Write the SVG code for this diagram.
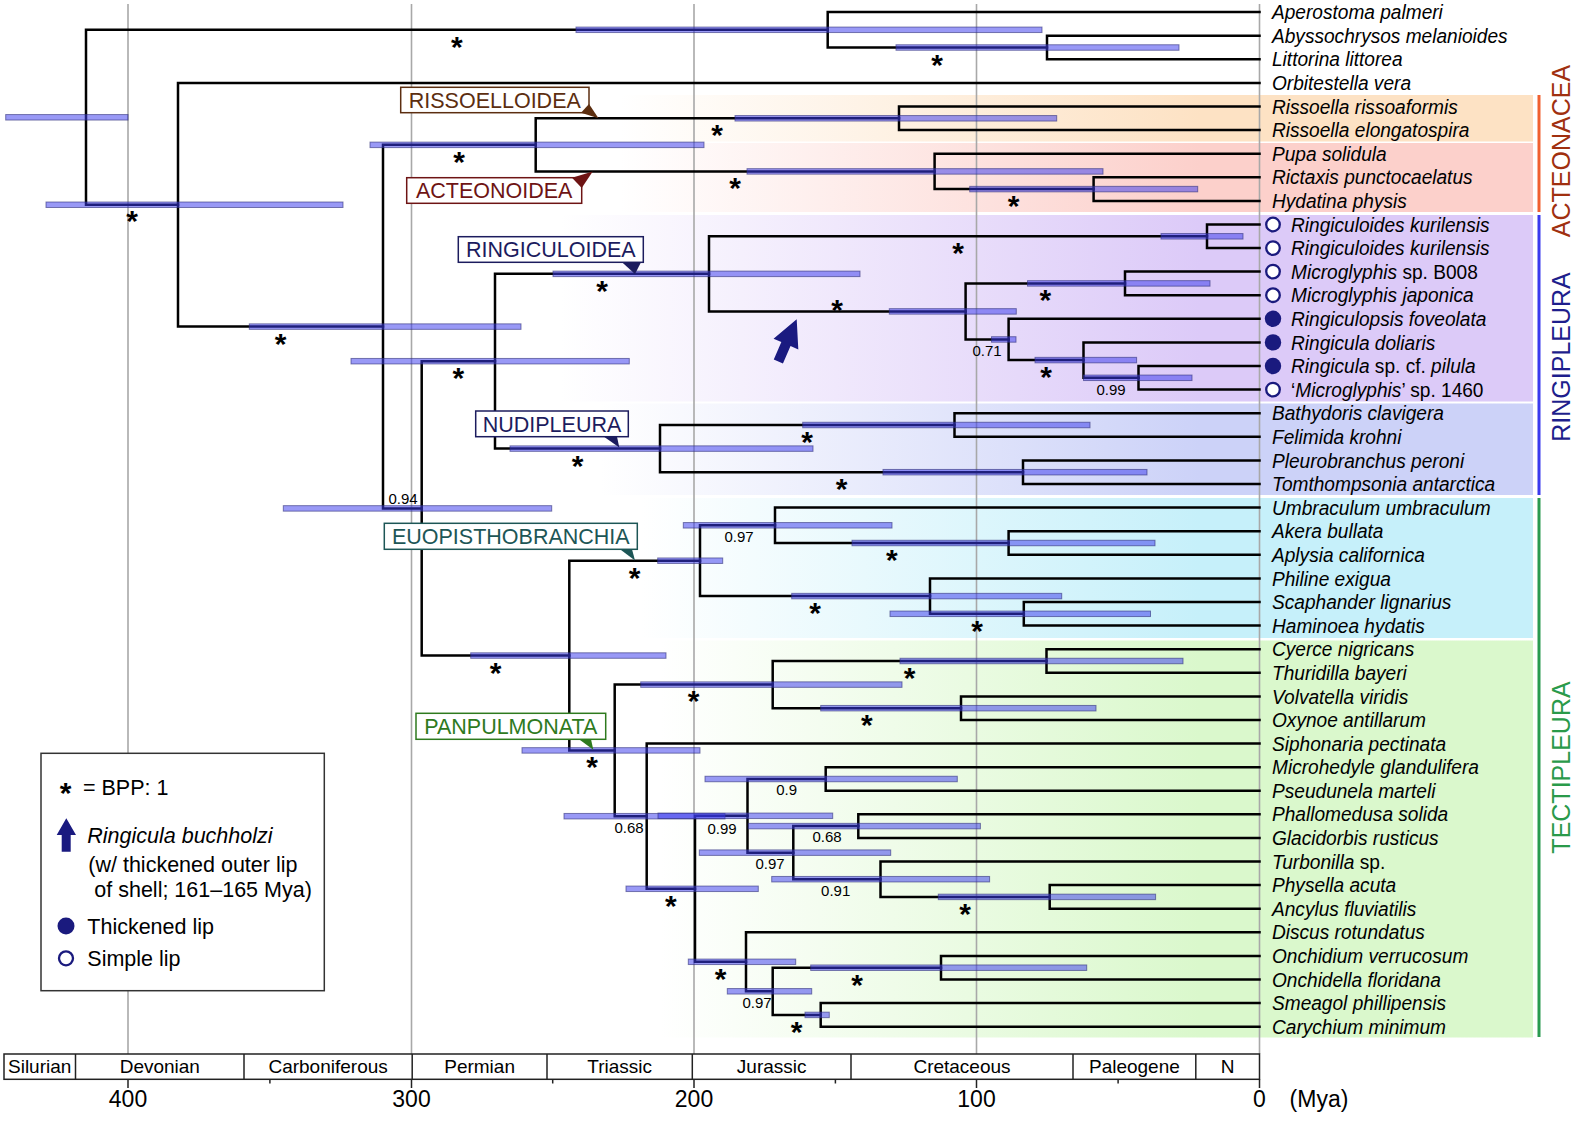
<svg xmlns="http://www.w3.org/2000/svg" width="1575" height="1124" viewBox="0 0 1575 1124">
<style>
text{font-family:"Liberation Sans",Arial,sans-serif}
.br{stroke:#000;stroke-width:2.5;fill:none;stroke-linecap:square}
.ci{fill:rgb(60,60,238);fill-opacity:0.52;stroke:#30307a;stroke-width:1;stroke-opacity:0.6}
.grid{stroke:#a8a8a8;stroke-width:1.6}
.tx{font-size:21px;font-style:italic;fill:#000}
.rm{font-style:normal}
.ast{font-size:30px;font-weight:bold;text-anchor:middle}
.pp{font-size:15px;text-anchor:middle}
.clab{font-size:21.5px;text-anchor:middle}
.cbox{fill:#fff;stroke-width:1.5}
.leg{font-size:21.5px}
.per{font-size:19px;text-anchor:middle}
.tick{stroke:#222;stroke-width:1.5}
.num{font-size:23px;text-anchor:middle}
.grp{font-size:25px;text-anchor:middle}
.dot{fill:#1a1a7e}
.odot{fill:#fff;stroke:#1a1a7e;stroke-width:2.3}
</style>
<defs>
<linearGradient id="gRis" gradientUnits="userSpaceOnUse" x1="620" y1="0" x2="1200" y2="0"><stop offset="0" stop-color="#fde2c4" stop-opacity="0"/><stop offset="1" stop-color="#fde2c4"/></linearGradient>
<linearGradient id="gAct" gradientUnits="userSpaceOnUse" x1="620" y1="0" x2="1200" y2="0"><stop offset="0" stop-color="#fcd0cb" stop-opacity="0"/><stop offset="1" stop-color="#fcd0cb"/></linearGradient>
<linearGradient id="gRin" gradientUnits="userSpaceOnUse" x1="560" y1="0" x2="1200" y2="0"><stop offset="0" stop-color="#dccaf8" stop-opacity="0"/><stop offset="1" stop-color="#dccaf8"/></linearGradient>
<linearGradient id="gNud" gradientUnits="userSpaceOnUse" x1="600" y1="0" x2="1200" y2="0"><stop offset="0" stop-color="#ccd2f8" stop-opacity="0"/><stop offset="1" stop-color="#ccd2f8"/></linearGradient>
<linearGradient id="gEuo" gradientUnits="userSpaceOnUse" x1="640" y1="0" x2="1200" y2="0"><stop offset="0" stop-color="#c6f0fa" stop-opacity="0"/><stop offset="1" stop-color="#c6f0fa"/></linearGradient>
<linearGradient id="gPan" gradientUnits="userSpaceOnUse" x1="660" y1="0" x2="1200" y2="0"><stop offset="0" stop-color="#daf8cc" stop-opacity="0"/><stop offset="1" stop-color="#daf8cc"/></linearGradient>
</defs>
<rect width="1575" height="1124" fill="#fff"/>
<g id="bands">
<rect x="520" y="95" width="1013" height="46.5" fill="url(#gRis)"/>
<rect x="520" y="143" width="1013" height="69" fill="url(#gAct)"/>
<rect x="520" y="215" width="1013" height="186.5" fill="url(#gRin)"/>
<rect x="520" y="403.5" width="1013" height="91.5" fill="url(#gNud)"/>
<rect x="520" y="498" width="1013" height="140" fill="url(#gEuo)"/>
<rect x="520" y="640.5" width="1013" height="397" fill="url(#gPan)"/>
</g>
<g id="gridlines" class="grid">
<line x1="128" y1="4" x2="128" y2="1054"/>
<line x1="411.5" y1="4" x2="411.5" y2="1054"/>
<line x1="694" y1="4" x2="694" y2="1054"/>
<line x1="976.5" y1="4" x2="976.5" y2="1054"/>
<line x1="1259.5" y1="4" x2="1259.5" y2="1054"/>
</g>
<g id="connectors" class="br">
<path d="M827.7 29.8H86V204.75H178"/>
<path d="M1259.5 12.1H827.7V47.5H1047"/>
<path d="M1259.5 35.7H1047V59.3H1259.5"/>
<path d="M1259.5 82.9H178V326.6H383"/>
<path d="M535.7 144.85H383V508.4H421.7"/>
<path d="M899 118.3H535.7V171.4H934.6"/>
<path d="M1259.5 106.5H899V130.1H1259.5"/>
<path d="M1259.5 153.7H934.6V189.1H1093.6"/>
<path d="M1259.5 177.3H1093.6V200.9H1259.5"/>
<path d="M495 361.2H421.7V655.55H569.3"/>
<path d="M709 273.85H495V448.6H660"/>
<path d="M1207 236.3H709V311.4H965.6"/>
<path d="M1259.5 224.5H1207V248.1H1259.5"/>
<path d="M1125 283.4H965.6V339.45H1008.6"/>
<path d="M1259.5 271.6H1125V295.2H1259.5"/>
<path d="M1259.5 318.8H1008.6V360.1H1083.5"/>
<path d="M1259.5 342.4H1083.5V377.8H1138.5"/>
<path d="M1259.5 366H1138.5V389.6H1259.5"/>
<path d="M954.5 425H660V472.2H1023"/>
<path d="M1259.5 413.2H954.5V436.8H1259.5"/>
<path d="M1259.5 460.4H1023V484H1259.5"/>
<path d="M700 560.7H569.3V750.4H614.7"/>
<path d="M775 525.3H700V596.1H930"/>
<path d="M1259.5 507.6H775V543H1008.6"/>
<path d="M1259.5 531.2H1008.6V554.8H1259.5"/>
<path d="M1259.5 578.4H930V613.8H1023.8"/>
<path d="M1259.5 602H1023.8V625.6H1259.5"/>
<path d="M772.7 684.6H614.7V816.2H646.7"/>
<path d="M1046.5 661H772.7V708.2H961"/>
<path d="M1259.5 649.2H1046.5V672.8H1259.5"/>
<path d="M1259.5 696.4H961V720H1259.5"/>
<path d="M1259.5 743.6H646.7V888.8H695"/>
<path d="M747.5 815.8H695V961.8H746"/>
<path d="M825.7 779H747.5V852.65H793.3"/>
<path d="M1259.5 767.2H825.7V790.7H1259.5"/>
<path d="M858.3 826.1H793.3V879.2H880.5"/>
<path d="M1259.5 814.3H858.3V837.9H1259.5"/>
<path d="M1259.5 861.5H880.5V896.9H1049.7"/>
<path d="M1259.5 885.1H1049.7V908.7H1259.5"/>
<path d="M1259.5 932.3H746V991.3H772.7"/>
<path d="M941 967.7H772.7V1014.9H820.7"/>
<path d="M1259.5 955.9H941V979.5H1259.5"/>
<path d="M1259.5 1003.1H820.7V1026.7H1259.5"/>
</g>
<g id="ci-bars" class="ci">
<rect x="5.7" y="114.55" width="122.3" height="5.5"/>
<rect x="46" y="202" width="297" height="5.5"/>
<rect x="576" y="27.05" width="466" height="5.5"/>
<rect x="896" y="44.75" width="283" height="5.5"/>
<rect x="249.3" y="323.85" width="271.7" height="5.5"/>
<rect x="370" y="142.1" width="334" height="5.5"/>
<rect x="735" y="115.55" width="321.7" height="5.5"/>
<rect x="747" y="168.65" width="356" height="5.5"/>
<rect x="969.7" y="186.35" width="228" height="5.5"/>
<rect x="283.3" y="505.65" width="268.4" height="5.5"/>
<rect x="351" y="358.45" width="278.3" height="5.5"/>
<rect x="553" y="271.1" width="307" height="5.5"/>
<rect x="1161" y="233.55" width="82" height="5.5"/>
<rect x="889.3" y="308.65" width="127" height="5.5"/>
<rect x="1027.5" y="280.65" width="182.5" height="5.5"/>
<rect x="991.5" y="336.7" width="24.5" height="5.5"/>
<rect x="1035" y="357.35" width="101.6" height="5.5"/>
<rect x="1083.5" y="375.05" width="108.5" height="5.5"/>
<rect x="510" y="445.85" width="303" height="5.5"/>
<rect x="802.7" y="422.25" width="287.3" height="5.5"/>
<rect x="883" y="469.45" width="264" height="5.5"/>
<rect x="470.7" y="652.8" width="195.3" height="5.5"/>
<rect x="657.7" y="557.95" width="65" height="5.5"/>
<rect x="683.3" y="522.55" width="208.7" height="5.5"/>
<rect x="852" y="540.25" width="303" height="5.5"/>
<rect x="791.7" y="593.35" width="270" height="5.5"/>
<rect x="890" y="611.05" width="260.5" height="5.5"/>
<rect x="522" y="747.65" width="178" height="5.5"/>
<rect x="640.7" y="681.85" width="261.3" height="5.5"/>
<rect x="900" y="658.25" width="283" height="5.5"/>
<rect x="820.7" y="705.45" width="275.3" height="5.5"/>
<rect x="564" y="813.45" width="161" height="5.5"/>
<rect x="626" y="886.05" width="132.3" height="5.5"/>
<rect x="658" y="813.05" width="174.7" height="5.5"/>
<rect x="705" y="776.25" width="252.3" height="5.5"/>
<rect x="699.3" y="849.9" width="191.4" height="5.5"/>
<rect x="748.3" y="823.35" width="232.1" height="5.5"/>
<rect x="771.7" y="876.45" width="217.9" height="5.5"/>
<rect x="938.3" y="894.15" width="217.3" height="5.5"/>
<rect x="688.3" y="959.05" width="107.4" height="5.5"/>
<rect x="727.3" y="988.55" width="84.4" height="5.5"/>
<rect x="810.7" y="964.95" width="276" height="5.5"/>
<rect x="805" y="1012.15" width="24.3" height="5.5"/>
</g>
<g id="bpp-asterisks" class="ast">
<text x="456.9" y="56.8">*</text>
<text x="937" y="74.5">*</text>
<text x="132" y="231">*</text>
<text x="280.5" y="353.5">*</text>
<text x="459" y="172">*</text>
<text x="717" y="145">*</text>
<text x="735" y="198">*</text>
<text x="1013.6" y="216">*</text>
<text x="458.3" y="388">*</text>
<text x="602" y="301">*</text>
<text x="958" y="263">*</text>
<text x="837" y="320">*</text>
<text x="1045.3" y="310.4">*</text>
<text x="1046" y="387">*</text>
<text x="577.5" y="475.6">*</text>
<text x="807" y="452">*</text>
<text x="841.5" y="499.2">*</text>
<text x="495.5" y="682.5">*</text>
<text x="634.6" y="587.7">*</text>
<text x="891.8" y="570">*</text>
<text x="815" y="623">*</text>
<text x="977" y="641">*</text>
<text x="592" y="777.4">*</text>
<text x="693.5" y="711">*</text>
<text x="909.6" y="688">*</text>
<text x="866.9" y="735.2">*</text>
<text x="670.8" y="915.8">*</text>
<text x="965" y="924">*</text>
<text x="720.5" y="988.8">*</text>
<text x="857" y="994.7">*</text>
<text x="796.7" y="1041.9">*</text>
</g>
<g id="bpp-values" class="pp">
<text x="403" y="504">0.94</text>
<text x="739" y="542">0.97</text>
<text x="987" y="356">0.71</text>
<text x="1111" y="395">0.99</text>
<text x="629" y="832.5">0.68</text>
<text x="722" y="833.5">0.99</text>
<text x="786.7" y="795">0.9</text>
<text x="827" y="842">0.68</text>
<text x="770" y="868.5">0.97</text>
<text x="835.7" y="895.5">0.91</text>
<text x="757" y="1008">0.97</text>
</g>
<g id="clade-rissoelloidea">
<rect class="cbox" x="400.7" y="87.3" width="188.3" height="25.4" stroke="#5c2e10"/>
<polygon points="581,112.7 598.5,118.3 589,104" fill="#5c2e10"/>
<text class="clab" x="494.8" y="107.8" fill="#5c2e10">RISSOELLOIDEA</text>
</g>
<g id="clade-acteonoidea">
<rect class="cbox" x="406.7" y="177.7" width="175" height="25.6" stroke="#6e1414"/>
<polygon points="572,177.7 592.7,171.4 581.7,188" fill="#6e1414"/>
<text class="clab" x="494.2" y="198.3" fill="#6e1414">ACTEONOIDEA</text>
</g>
<g id="clade-ringiculoidea">
<rect class="cbox" x="458.3" y="236.7" width="185" height="25.6" stroke="#1c1c5e"/>
<polygon points="622,262.3 635,274 641,262.3" fill="#1c1c5e"/>
<text class="clab" x="550.8" y="257.3" fill="#1c1c5e">RINGICULOIDEA</text>
</g>
<g id="clade-nudipleura">
<rect class="cbox" x="475.7" y="411" width="152.6" height="25.7" stroke="#1c1c5e"/>
<polygon points="604,436.7 619.3,447.5 617,436.7" fill="#1c1c5e"/>
<text class="clab" x="552" y="431.7" fill="#1c1c5e">NUDIPLEURA</text>
</g>
<g id="clade-euopisthobranchia">
<rect class="cbox" x="384.3" y="523.3" width="253" height="26" stroke="#1d5656"/>
<polygon points="620,549.3 635,560.5 632,549.3" fill="#1d5656"/>
<text class="clab" x="510.8" y="544.2" fill="#1d5656">EUOPISTHOBRANCHIA</text>
</g>
<g id="clade-panpulmonata">
<rect class="cbox" x="416" y="713.3" width="189.7" height="26" stroke="#2e7a1e"/>
<polygon points="579,739.3 593.3,749.8 591,739.3" fill="#2e7a1e"/>
<text class="clab" x="510.8" y="734.2" fill="#2e7a1e">PANPULMONATA</text>
</g>
<g id="lip-states">
<circle class="odot" cx="1273" cy="224.5" r="6.8"/>
<circle class="odot" cx="1273" cy="248.1" r="6.8"/>
<circle class="odot" cx="1273" cy="271.6" r="6.8"/>
<circle class="odot" cx="1273" cy="295.2" r="6.8"/>
<circle class="dot" cx="1273" cy="318.8" r="8.2"/>
<circle class="dot" cx="1273" cy="342.4" r="8.2"/>
<circle class="dot" cx="1273" cy="366" r="8.2"/>
<circle class="odot" cx="1273" cy="389.6" r="6.8"/>
</g>
<g id="taxa" class="tx" transform="translate(1272 0) scale(0.91 1) translate(-1272 0)">
<g id="t01"><text x="1272" y="19.3">Aperostoma palmeri</text></g>
<g id="t02"><text x="1272" y="42.9">Abyssochrysos melanioides</text></g>
<g id="t03"><text x="1272" y="66.5">Littorina littorea</text></g>
<g id="t04"><text x="1272" y="90.1">Orbitestella vera</text></g>
<g id="t05"><text x="1272" y="113.7">Rissoella rissoaformis</text></g>
<g id="t06"><text x="1272" y="137.3">Rissoella elongatospira</text></g>
<g id="t07"><text x="1272" y="160.9">Pupa solidula</text></g>
<g id="t08"><text x="1272" y="184.5">Rictaxis punctocaelatus</text></g>
<g id="t09"><text x="1272" y="208.1">Hydatina physis</text></g>
<g id="t10"><text x="1292.9" y="231.7">Ringiculoides kurilensis</text></g>
<g id="t11"><text x="1292.9" y="255.3">Ringiculoides kurilensis</text></g>
<g id="t12"><text x="1292.9" y="278.8">Microglyphis<tspan class="rm"> sp. B008</tspan></text></g>
<g id="t13"><text x="1292.9" y="302.4">Microglyphis japonica</text></g>
<g id="t14"><text x="1292.9" y="326">Ringiculopsis foveolata</text></g>
<g id="t15"><text x="1292.9" y="349.6">Ringicula doliaris</text></g>
<g id="t16"><text x="1292.9" y="373.2">Ringicula<tspan class="rm"> sp. cf. </tspan>pilula</text></g>
<g id="t17"><text x="1292.9" y="396.8"><tspan class="rm">‘</tspan>Microglyphis<tspan class="rm">’ sp. 1460</tspan></text></g>
<g id="t18"><text x="1272" y="420.4">Bathydoris clavigera</text></g>
<g id="t19"><text x="1272" y="444">Felimida krohni</text></g>
<g id="t20"><text x="1272" y="467.6">Pleurobranchus peroni</text></g>
<g id="t21"><text x="1272" y="491.2">Tomthompsonia antarctica</text></g>
<g id="t22"><text x="1272" y="514.8">Umbraculum umbraculum</text></g>
<g id="t23"><text x="1272" y="538.4">Akera bullata</text></g>
<g id="t24"><text x="1272" y="562">Aplysia californica</text></g>
<g id="t25"><text x="1272" y="585.6">Philine exigua</text></g>
<g id="t26"><text x="1272" y="609.2">Scaphander lignarius</text></g>
<g id="t27"><text x="1272" y="632.8">Haminoea hydatis</text></g>
<g id="t28"><text x="1272" y="656.4">Cyerce nigricans</text></g>
<g id="t29"><text x="1272" y="680">Thuridilla bayeri</text></g>
<g id="t30"><text x="1272" y="703.6">Volvatella viridis</text></g>
<g id="t31"><text x="1272" y="727.2">Oxynoe antillarum</text></g>
<g id="t32"><text x="1272" y="750.8">Siphonaria pectinata</text></g>
<g id="t33"><text x="1272" y="774.4">Microhedyle glandulifera</text></g>
<g id="t34"><text x="1272" y="797.9">Pseudunela marteli</text></g>
<g id="t35"><text x="1272" y="821.5">Phallomedusa solida</text></g>
<g id="t36"><text x="1272" y="845.1">Glacidorbis rusticus</text></g>
<g id="t37"><text x="1272" y="868.7">Turbonilla<tspan class="rm"> sp.</tspan></text></g>
<g id="t38"><text x="1272" y="892.3">Physella acuta</text></g>
<g id="t39"><text x="1272" y="915.9">Ancylus fluviatilis</text></g>
<g id="t40"><text x="1272" y="939.5">Discus rotundatus</text></g>
<g id="t41"><text x="1272" y="963.1">Onchidium verrucosum</text></g>
<g id="t42"><text x="1272" y="986.7">Onchidella floridana</text></g>
<g id="t43"><text x="1272" y="1010.3">Smeagol phillipensis</text></g>
<g id="t44"><text x="1272" y="1033.9">Carychium minimum</text></g>
</g>
<g id="group-acteonacea">
<line x1="1539" y1="95" x2="1539" y2="212" stroke="#f06030" stroke-width="3"/>
<text class="grp" transform="translate(1570 151) rotate(-90)" fill="#a0300f">ACTEONACEA</text>
</g>
<g id="group-ringipleura">
<line x1="1539" y1="215" x2="1539" y2="495" stroke="#3a3aee" stroke-width="3"/>
<text class="grp" transform="translate(1570 357) rotate(-90)" fill="#1e1e8c">RINGIPLEURA</text>
</g>
<g id="group-tectipleura">
<line x1="1539" y1="498" x2="1539" y2="1037" stroke="#2a9a50" stroke-width="3"/>
<text class="grp" transform="translate(1570 767.5) rotate(-90)" fill="#2a9a4a">TECTIPLEURA</text>
</g>
<g id="arrow-ringicula-buchholzi">
<polygon points="0,0 13.5,27 5,27 5,46 -5,46 -5,27 -13.5,27" fill="#1a1a80" transform="translate(796.7 319.3) rotate(23.5)"/>
</g>
<g id="legend">
<rect x="41" y="753.3" width="283.3" height="237.4" fill="#fff" stroke="#333" stroke-width="1.5"/>
<text class="ast" x="65.7" y="803">*</text>
<text class="leg" x="83" y="795">= BPP: 1</text>
<polygon points="66.3,818.3 76,835 70.7,835 70.7,851.7 61.7,851.7 61.7,835 56.7,835" fill="#1a1a80"/>
<text class="leg" x="87.3" y="842.7" font-style="italic">Ringicula buchholzi</text>
<text class="leg" x="88.3" y="871.7">(w/ thickened outer lip</text>
<text class="leg" x="94.3" y="896.7">of shell; 161–165 Mya)</text>
<circle class="dot" cx="66" cy="926" r="8.5"/>
<text class="leg" x="87.3" y="934">Thickened lip</text>
<circle class="odot" cx="66" cy="958.3" r="7"/>
<text class="leg" x="87.3" y="966">Simple lip</text>
</g>
<g id="time-axis">
<rect x="4" y="1054" width="1255.5" height="25.3" fill="none" stroke="#222" stroke-width="1.5"/>
<g class="tick">
<line x1="75.5" y1="1054" x2="75.5" y2="1079.3"/>
<line x1="244" y1="1054" x2="244" y2="1079.3"/>
<line x1="412.2" y1="1054" x2="412.2" y2="1079.3"/>
<line x1="547" y1="1054" x2="547" y2="1079.3"/>
<line x1="692.3" y1="1054" x2="692.3" y2="1079.3"/>
<line x1="851" y1="1054" x2="851" y2="1079.3"/>
<line x1="1073" y1="1054" x2="1073" y2="1079.3"/>
<line x1="1195.8" y1="1054" x2="1195.8" y2="1079.3"/>
<line x1="128" y1="1079.3" x2="128" y2="1088"/>
<line x1="411.5" y1="1079.3" x2="411.5" y2="1088"/>
<line x1="694" y1="1079.3" x2="694" y2="1088"/>
<line x1="976.5" y1="1079.3" x2="976.5" y2="1088"/>
<line x1="1259.5" y1="1079.3" x2="1259.5" y2="1088"/>
<line x1="269.9" y1="1079.3" x2="269.9" y2="1083.5"/>
<line x1="552.7" y1="1079.3" x2="552.7" y2="1083.5"/>
<line x1="835.4" y1="1079.3" x2="835.4" y2="1083.5"/>
<line x1="1118.1" y1="1079.3" x2="1118.1" y2="1083.5"/>
</g>
<g class="per">
<text x="39.7" y="1073">Silurian</text>
<text x="159.8" y="1073">Devonian</text>
<text x="328.1" y="1073">Carboniferous</text>
<text x="479.6" y="1073">Permian</text>
<text x="619.7" y="1073">Triassic</text>
<text x="771.7" y="1073">Jurassic</text>
<text x="962" y="1073">Cretaceous</text>
<text x="1134.4" y="1073">Paleogene</text>
<text x="1227.7" y="1073">N</text>
</g>
<g class="num">
<text x="128" y="1106.5">400</text>
<text x="411.5" y="1106.5">300</text>
<text x="694" y="1106.5">200</text>
<text x="976.5" y="1106.5">100</text>
<text x="1259.5" y="1106.5">0</text>
<text x="1289.6" y="1106.5" text-anchor="start">(Mya)</text>
</g>
</g>
</svg>
